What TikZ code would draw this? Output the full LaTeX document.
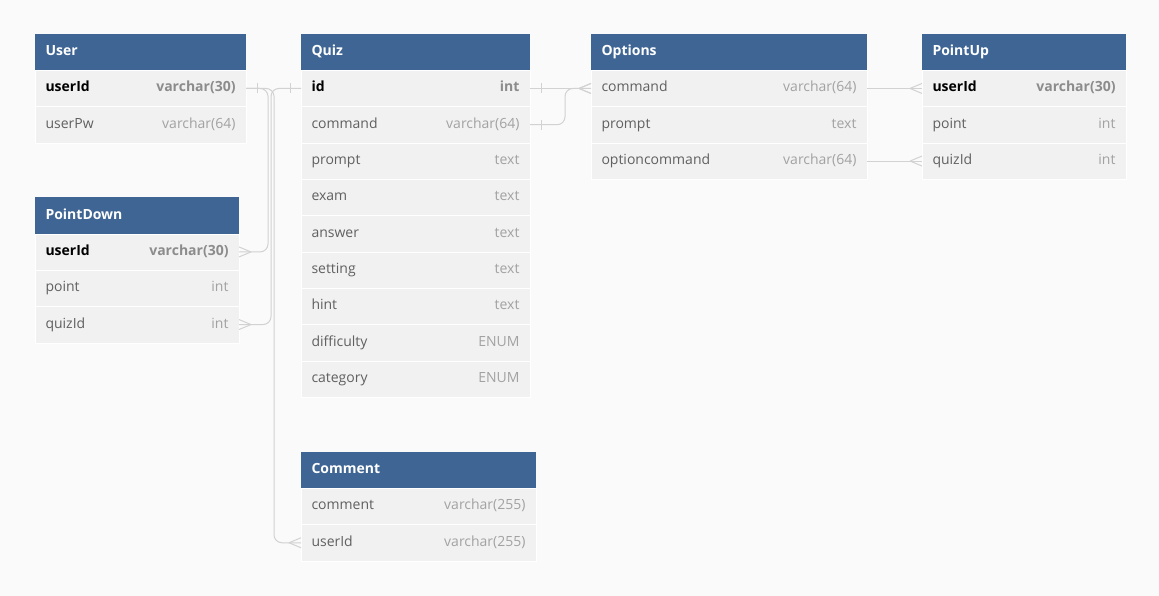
\documentclass[tikz,border=0pt]{standalone}
\usepackage{fontspec}
\setmainfont{Open Sans}
\usepackage{tikz}
\usetikzlibrary{positioning}
\usetikzlibrary{decorations.markings}
\usepackage{xcolor}
\definecolor{bggray}{HTML}{FAFAFA}
\definecolor{hdrblue}{HTML}{3E6594}
\definecolor{rowgray}{HTML}{F1F1F1}
\definecolor{linkgray}{HTML}{D2D2D2}
\definecolor{fieldgray}{HTML}{606060}
\definecolor{typegray}{HTML}{A2A2A2}
\definecolor{keytype}{HTML}{8C8C8C}

\tikzset{
  tbl/.style={rectangle, outer sep=0pt, inner xsep=10.5pt, inner ysep=0pt,
    minimum height=36.3pt, text height=10.5pt, text depth=3.5pt,
    font=\fontsize{14}{17}\selectfont},
  hdr/.style={tbl, fill=hdrblue, text=white, font=\fontsize{14}{17}\selectfont\bfseries},
  key/.style={tbl, fill=rowgray, draw=white, text=black, font=\fontsize{14}{17}\selectfont\bfseries},
  field/.style={tbl, fill=rowgray, draw=white, text=fieldgray},
  link/.style={draw=linkgray, line width=1pt, rounded corners=8pt},
  one/.style={postaction={decorate, decoration={markings,
    mark=at position 11pt with {\draw[linkgray, line width=1pt, sharp corners] (0,-5pt) -- (0,5pt);}}}},
  many/.style={postaction={decorate, decoration={markings,
    mark=at position 1 with {\draw[linkgray, line width=1pt, sharp corners] (-12pt,0) -- (0,5pt) (-12pt,0) -- (0,-5pt);}}}},
}

\begin{document}
\begin{tikzpicture}[x=1pt, y=1pt]
   \fill[bggray] (0,0) rectangle (1159,-596);

   % User
   \node[hdr, text width=190pt, anchor=north west] (user) at (35,-34) {User};
   \node[key, text width=190pt, below=0pt of user] (user-userId) {userId\hfill\textcolor{keytype}{varchar(30)}};
   \node[field, text width=190pt, below=0pt of user-userId] (user-userPw) {userPw\hfill\textcolor{typegray}{varchar(64)}};

   % PointDown
   \node[hdr, text width=183pt, anchor=north west] (pointdown) at (35,-197.5) {PointDown};
   \node[key, text width=183pt, below=0pt of pointdown] (pointdown-userId) {userId\hfill\textcolor{keytype}{varchar(30)}};
   \foreach \f/\t [remember=\f as \p (initially userId)] in {point/int, quizId/int}
      \node[field, text width=183pt, below=0pt of pointdown-\p] (pointdown-\f) {\f\hfill\textcolor{typegray}{\t}};

   % Quiz
   \node[hdr, text width=208pt, anchor=north west] (quiz) at (301,-34) {Quiz};
   \node[key, text width=208pt, below=0pt of quiz] (quiz-id) {id\hfill\textcolor{keytype}{int}};
   \foreach \f/\t [remember=\f as \p (initially id)] in {command/varchar(64), prompt/text, exam/text,
         answer/text, setting/text, hint/text, difficulty/ENUM, category/ENUM}
      \node[field, text width=208pt, below=0pt of quiz-\p] (quiz-\f) {\f\hfill\textcolor{typegray}{\t}};

   % Comment
   \node[hdr, text width=214pt, anchor=north west] (comment) at (301,-452) {Comment};
   \node[field, text width=214pt, below=0pt of comment] (comment-comment) {comment\hfill\textcolor{typegray}{varchar(255)}};
   \node[field, text width=214pt, below=0pt of comment-comment] (comment-userId) {userId\hfill\textcolor{typegray}{varchar(255)}};

   % Options
   \node[hdr, text width=255pt, anchor=north west] (options) at (591,-34) {Options};
   \node[field, text width=255pt, below=0pt of options] (options-command) {command\hfill\textcolor{typegray}{varchar(64)}};
   \foreach \f/\t [remember=\f as \p (initially command)] in {prompt/text, optioncommand/varchar(64)}
      \node[field, text width=255pt, below=0pt of options-\p] (options-\f) {\f\hfill\textcolor{typegray}{\t}};

   % PointUp
   \node[hdr, text width=183pt, anchor=north west] (pointup) at (922,-34) {PointUp};
   \node[key, text width=183pt, below=0pt of pointup] (pointup-userId) {userId\hfill\textcolor{keytype}{varchar(30)}};
   \foreach \f/\t [remember=\f as \p (initially userId)] in {point/int, quizId/int}
      \node[field, text width=183pt, below=0pt of pointup-\p] (pointup-\f) {\f\hfill\textcolor{typegray}{\t}};

   % references
   \draw[link, one, many] (user-userId.east) -- ++(22,0) |- (pointdown-userId.east);
   \draw[link, one, many] (quiz-id.west) -- ++(-30,0) |- (pointdown-quizId.east);
   \draw[link, many] (user-userId.east) -- ++(28,0) |- (comment-userId.west);
   \draw[link, one, many] (quiz-id.east) -- (options-command.west);
   \draw[link, one, many] (quiz-command.east) -- ++(35,0) |- (options-command.west);
   \draw[link, many] (options-command.east) -- (pointup-userId.west);
   \draw[link, many] (options-optioncommand.east) -- (pointup-quizId.west);
\end{tikzpicture}
\end{document}
